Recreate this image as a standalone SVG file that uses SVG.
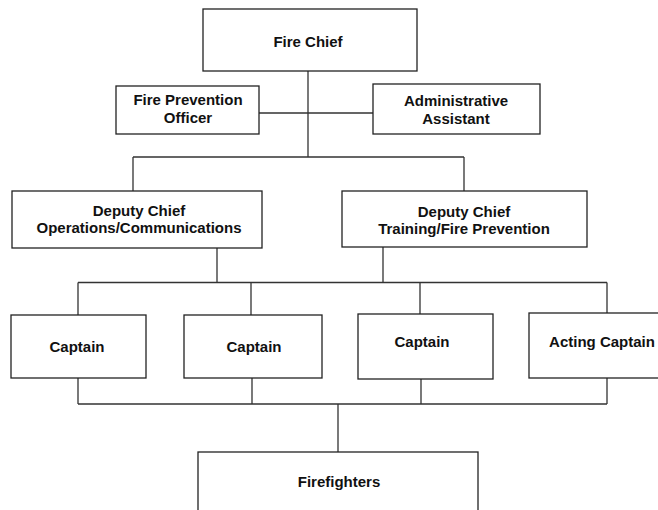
<svg xmlns="http://www.w3.org/2000/svg" width="658" height="510" viewBox="0 0 658 510">
<style>
.box{fill:#fff;stroke:#222;stroke-width:1.3}
.ln{fill:none;stroke:#333;stroke-width:1.3}
text{font-family:"Liberation Sans",Arial,sans-serif;font-weight:bold;font-size:15px;fill:#111;text-anchor:middle}
</style>
<rect width="658" height="510" fill="#fff"/>
<g id="connectors">
<path class="ln" d="M308,71V157M259,113H373M133,157H464M133,157V191M464,157V191"/>
<path class="ln" d="M217,248V282.5M383,247V282.5M78,282.5H607M78,282.5V315M251,282.5V315M420,282.5V314M607,282.5V313"/>
<path class="ln" d="M78,378V404M252,378V404M421,379V404M607,378V404M78,404H607M338,404V452"/>
</g>
<g id="fire-chief"><rect class="box" x="203" y="9" width="214" height="62"/><text x="308" y="47">Fire Chief</text></g>
<g id="fire-prevention-officer"><rect class="box" x="116" y="86" width="143" height="48"/><text x="188" y="105">Fire Prevention</text><text x="188" y="123">Officer</text></g>
<g id="administrative-assistant"><rect class="box" x="373" y="84" width="167" height="50"/><text x="456" y="106">Administrative</text><text x="456" y="124">Assistant</text></g>
<g id="deputy-ops"><rect class="box" x="12" y="191" width="250" height="57"/><text x="139" y="216">Deputy Chief</text><text x="139" y="233">Operations/Communications</text></g>
<g id="deputy-training"><rect class="box" x="342" y="191" width="245" height="56"/><text x="464" y="217">Deputy Chief</text><text x="464" y="234">Training/Fire Prevention</text></g>
<g id="captain-1"><rect class="box" x="11" y="315" width="135" height="63"/><text x="77" y="352">Captain</text></g>
<g id="captain-2"><rect class="box" x="184" y="315" width="138" height="63"/><text x="254" y="352">Captain</text></g>
<g id="captain-3"><rect class="box" x="358" y="314" width="135" height="65"/><text x="422" y="347">Captain</text></g>
<g id="acting-captain"><rect class="box" x="529" y="313" width="147" height="65"/><text x="602" y="347">Acting Captain</text></g>
<g id="firefighters"><rect class="box" x="198" y="452" width="280" height="70"/><text x="339" y="487">Firefighters</text></g>
</svg>
